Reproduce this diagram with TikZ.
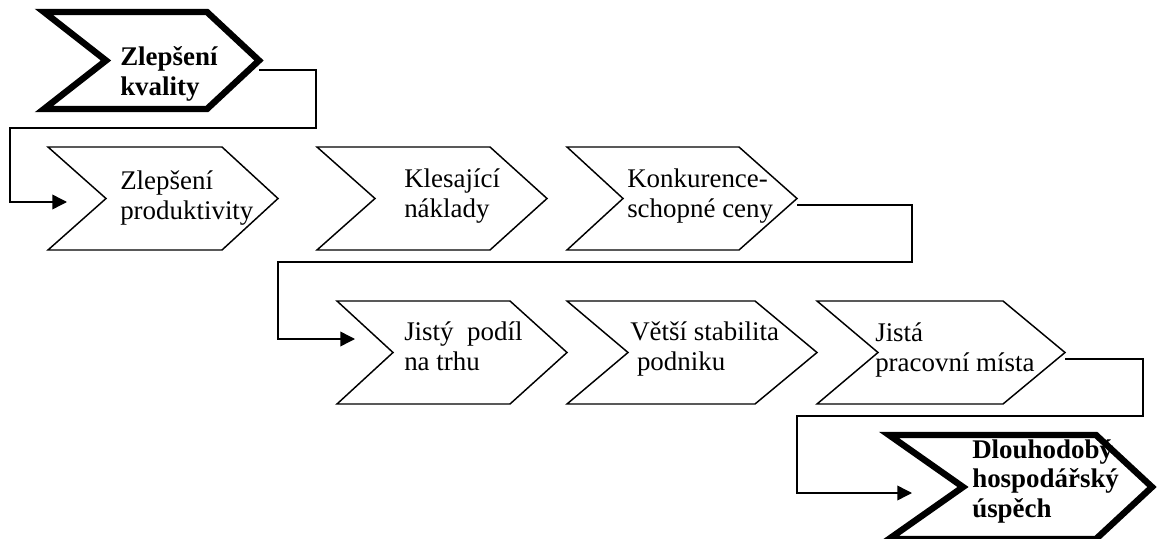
\documentclass[tikz,border=0pt]{standalone}
\usepackage{fontspec}
\setmainfont{Liberation Serif}
\usetikzlibrary{arrows.meta,calc}
\tikzset{
  chev/.style={draw=black, line width=1.1pt, line join=miter},
  bigchev/.style={draw=black, line width=4.8pt, line join=miter},
  link/.style={draw=black, line width=1.1pt, -{Triangle[length=11pt,width=11pt]}},
  tag/.style={anchor=base west, align=left, inner sep=0pt, font=\fontsize{20.2}{21.9}\selectfont},
  bigtag/.style={tag, font=\fontsize{20.2}{21.9}\selectfont\bfseries}
}
\begin{document}
\begin{tikzpicture}[x=0.75pt, y=-0.75pt]
\useasboundingbox (0,0) rectangle (1157,539);

            \draw[bigchev] (44,12) -- (207,12) -- (259,60.5) coordinate (q1tip) -- (207,109) -- (44,109) -- (106,60.5) coordinate (q1in) -- cycle;

            \foreach \n/\l/\nx/\tr/\tp/\t/\b in {q2/48/106/222/278/147/250, q3/317/375/490/547/147/250, q4/567/623/739/797/147/250, q5/337/393/510/567/301/404, q6/567/628/755/817/301/404, q7/817/878/1003/1065/301/404}
            \draw[chev] (\l,\t) -- (\tr,\t) -- (\tp,{(\t+\b)/2}) coordinate (\n tip) -- (\tr,\b) -- (\l,\b) -- (\nx,{(\t+\b)/2}) coordinate (\n in) -- cycle;

            \draw[bigchev] (889,435) -- (1096,435) -- (1152,487) coordinate (q8tip) -- (1096,539) -- (889,539) -- (963,487) coordinate (q8in) -- cycle;

            \node[bigtag] (t1) at (120,95) {Zlepšení\\kvality};
            \node[tag] (t2) at (120,219) {Zlepšení\\produktivity};
            \node[tag] (t3) at (404,217) {Klesající\\náklady};
            \node[tag] (t4) at (627,217) {Konkurence-\\schopné ceny};
            \node[tag] (t5) at (404,370) {Jistý\ \ podíl\\na trhu};
            \node[tag] (t6) at (630,370) {Větší stabilita\\\ podniku};
            \node[tag] (t7) at (875,371) {Jistá\\pracovní místa};
            \node[bigtag] (t8) at (972,517) {Dlouhodobý\\hospodářský\\úspěch};

            \draw[link] ($(q1tip)+(0,9.5)$) -- ++(57,0) -- ++(0,58) -- ++(-306,0) |- ($(q2in)+(-39,3.5)$);
            \draw[link] ($(q4tip)+(0,6.5)$) -- ++(115,0) -- ++(0,57) -- ++(-634,0) |- ($(q5in)+(-38,-13.5)$);
            \draw[link] ($(q7tip)+(0,6.5)$) -- ++(78,0) -- ++(0,57) -- ++(-346,0) |- ($(q8in)+(-51,6)$);
\end{tikzpicture}
\end{document}
